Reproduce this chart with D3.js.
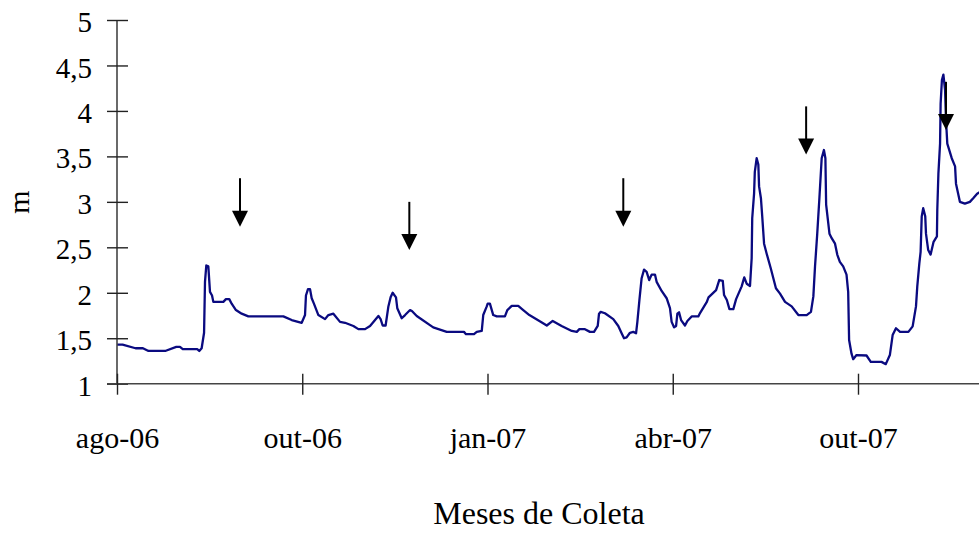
<!DOCTYPE html>
<html>
<head>
<meta charset="utf-8">
<script src="https://cdn.jsdelivr.net/npm/d3@7/dist/d3.min.js"></script>
<style>
  html, body { margin: 0; padding: 0; background: #fff; overflow: hidden; }
  svg { display: block; }
  text { font-family: "Liberation Serif", "Times New Roman", serif; fill: #000; }
</style>
</head>
<body>
<svg id="chart" width="979" height="533"></svg>
<script>
// ---- data ----
// observation number (sampling order) and water level (m)
const obs = [0,3,10,14,17,26,32,34,35.5,43.3,44.4,45.7,47,47.5,48.2,49.3,50.2,51.3,52,57.4,58.8,60.6,61.9,64.2,67.3,70.9,89.8,94.3,99.7,101.5,102,103.1,104.2,105.1,106.3,108.7,112.3,114.1,116.8,120.4,123.1,127.6,130.3,133.9,136.6,139.3,141.1,142.3,143.4,145,146.5,147.7,148.8,150.6,151.3,153.7,155.5,158.2,159.2,161.8,170.7,178,187.3,188.4,192.7,194.2,196.9,197.7,199.6,200.1,201.3,203.1,205,209.4,210.7,213.1,216.6,219.3,222.6,228,232,235.2,240,245.5,248.2,249.6,252.6,255.3,257.5,259.5,260.2,261.1,263.4,267.9,270.6,272.4,273.7,275.1,276.9,278.7,280.2,280.9,282,283.2,284.5,285.9,287.3,288.6,290.4,291.3,294,296.7,298.5,299.4,300.7,301.8,302.5,303.4,304.5,306.6,307.9,310.2,313.8,314.8,318.4,319.3,323.4,325.1,327,327.7,329.2,330.6,332.7,334.2,337.2,338.6,339.9,341.7,342.6,342.9,343.9,344.3,345.3,346.2,346.6,347.6,348.3,349.3,350.7,352.9,355.7,357.9,360.6,364.2,367.8,372.3,374.6,375.9,376.8,378,379.1,380.4,381.6,382.4,382.8,384.6,385.8,387.6,388.8,390.2,392,393.8,394.7,395.2,396.5,397.4,399.2,404.6,406.9,412.7,415,417.2,418.7,420.5,422.7,427.2,429.5,431.3,432,433.1,433.8,434.4,435.2,436.3,436.7,437.9,439.2,440.8,442.6,442.8,443.4,444.3,444.6,445.3,446.1,447,447.5,448.2,450.6,452.4,452.9,455,457.7,460.4,462.2,464.3,466];
const level = [1.43,1.43,1.39,1.39,1.36,1.36,1.405,1.405,1.38,1.38,1.36,1.39,1.56,2.12,2.30,2.29,2.01,1.97,1.90,1.90,1.93,1.93,1.88,1.81,1.77,1.74,1.74,1.70,1.67,1.755,1.97,2.04,2.04,1.94,1.88,1.755,1.71,1.755,1.77,1.68,1.67,1.635,1.60,1.60,1.635,1.70,1.745,1.71,1.64,1.64,1.85,1.95,2.00,1.95,1.83,1.72,1.755,1.81,1.80,1.745,1.62,1.57,1.57,1.545,1.545,1.57,1.58,1.755,1.85,1.88,1.88,1.755,1.74,1.74,1.81,1.855,1.855,1.81,1.755,1.69,1.64,1.69,1.635,1.58,1.57,1.60,1.60,1.57,1.57,1.635,1.77,1.79,1.775,1.71,1.635,1.555,1.50,1.51,1.56,1.57,1.555,1.68,1.92,2.16,2.255,2.23,2.14,2.20,2.20,2.12,2.02,1.94,1.83,1.68,1.62,1.635,1.77,1.785,1.70,1.64,1.69,1.74,1.74,1.78,1.90,1.95,2.03,2.14,2.13,1.975,1.92,1.82,1.82,1.93,2.07,2.17,2.10,2.075,2.38,2.82,3.09,3.33,3.48,3.41,3.17,3.04,2.84,2.54,2.43,2.27,2.05,1.99,1.90,1.85,1.755,1.755,1.79,1.96,2.29,2.65,3.02,3.48,3.57,3.48,2.97,2.65,2.60,2.54,2.42,2.34,2.29,2.20,2.01,1.48,1.33,1.27,1.315,1.31,1.24,1.24,1.215,1.315,1.535,1.61,1.57,1.57,1.63,1.85,2.07,2.32,2.45,2.84,2.93,2.84,2.65,2.47,2.42,2.56,2.62,2.91,3.31,3.64,4.08,4.34,4.40,4.23,3.90,3.64,3.48,3.39,3.20,3.00,2.98,3.00,3.04,3.09,3.11];

const monthTicks = [0, 100, 200, 300, 400];
const monthLabels = ["ago-06", "out-06", "jan-07", "abr-07", "out-07"];
const yTicks = [1, 1.5, 2, 2.5, 3, 3.5, 4, 4.5, 5];

// sampling campaigns (arrows): observation, arrow tail level, arrow tip level
const arrowObs  = [66.4, 157.8, 273.3, 372, 447.5];
const arrowTail = [3.26, 3.00, 3.26, 4.05, 4.32];
const arrowTip  = [2.727, 2.47, 2.727, 3.52, 3.79];

const yTitle = "m";
const xTitle = "Meses de Coleta";

// ---- layout ----
const svg = d3.select("#chart");
const x0 = 117, y0 = 383.7, yTop = 20;
const x = d3.scaleLinear().domain([0, 500]).range([x0, x0 + 500 * 1.8525]);
const y = d3.scaleLinear().domain([1, 5]).range([y0, yTop]);
const fmt = d => String(d).replace(".", ",");

// line
const series = obs.map((o, i) => ({ o, v: level[i] }));
const line = d3.line().x(d => x(d.o)).y(d => y(d.v));
svg.append("path")
  .datum(series)
  .attr("d", line)
  .attr("fill", "none")
  .attr("stroke", "#0a0a80")
  .attr("stroke-width", 2.3)
  .attr("stroke-linejoin", "round");

// y axis
const yAxis = svg.append("g")
  .attr("transform", `translate(${x0},0)`)
  .call(d3.axisLeft(y).tickValues(yTicks).tickFormat(fmt).tickSize(10).tickPadding(15));
yAxis.select(".domain").attr("stroke", "#444").attr("stroke-width", 1.6).attr("d", `M0,${y0}V${yTop}`);
yAxis.selectAll(".tick line").attr("x1", -10).attr("x2", 11).attr("stroke", "#222").attr("stroke-width", 1.4);
yAxis.selectAll(".tick text")
  .attr("font-family", "Liberation Serif").attr("font-size", 29).attr("fill", "#000").attr("dy", "0.4em");

// x axis
const xAxis = svg.append("g")
  .attr("transform", `translate(0,${y0})`)
  .call(d3.axisBottom(x).tickValues(monthTicks).tickFormat((d, i) => monthLabels[i]).tickSize(10).tickPadding(0));
xAxis.select(".domain").attr("stroke", "#444").attr("stroke-width", 1.6).attr("d", `M${x0 - 10},0H979`);
xAxis.selectAll(".tick line").attr("y1", -10).attr("y2", 11).attr("stroke", "#222").attr("stroke-width", 1.4);
xAxis.selectAll(".tick text")
  .attr("font-family", "Liberation Serif").attr("font-size", 30).attr("fill", "#000")
  .attr("y", 64).attr("dy", 0);

// arrows
const arrows = svg.append("g");
arrowObs.forEach((o, i) => {
  const ax = x(o), yt = y(arrowTail[i]), yp = y(arrowTip[i]);
  arrows.append("line")
    .attr("x1", ax).attr("x2", ax).attr("y1", yt).attr("y2", yp - 10)
    .attr("stroke", "#000").attr("stroke-width", 2);
  arrows.append("path")
    .attr("d", `M${ax - 8},${yp - 16}L${ax + 8},${yp - 16}L${ax},${yp}Z`)
    .attr("fill", "#000");
});

// titles
svg.append("text")
  .attr("transform", `translate(29,202) rotate(-90)`)
  .attr("text-anchor", "middle")
  .attr("font-size", 30)
  .text(yTitle);

svg.append("text")
  .attr("x", 539).attr("y", 524)
  .attr("text-anchor", "middle")
  .attr("font-size", 32)
  .text(xTitle);
</script>
</body>
</html>
